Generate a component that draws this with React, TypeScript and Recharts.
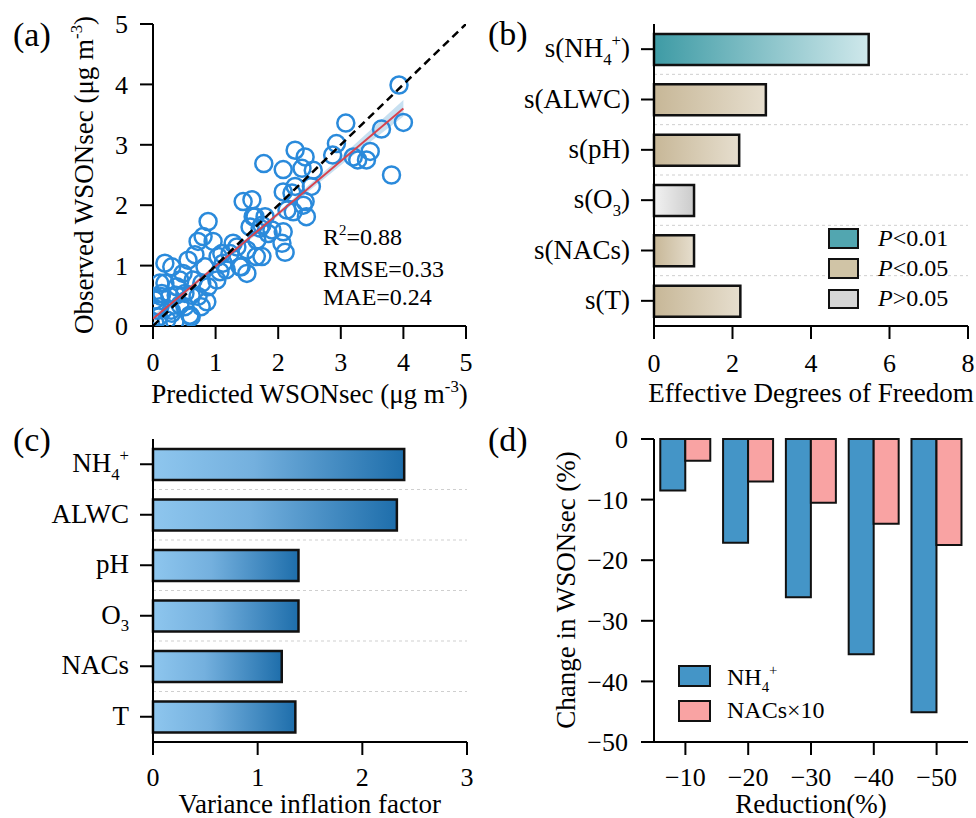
import React from 'react';
import {
  ComposedChart,
  BarChart,
  Bar,
  Scatter,
  Area,
  XAxis,
  YAxis,
  ReferenceLine,
  Cell,
} from 'recharts';

const FONT = '"Liberation Serif", "Times New Roman", serif';

// ---------- Panel (a): predicted vs observed ----------
const predicted = [
  3.93, 4.0, 3.65, 3.81, 3.08, 2.93, 2.87, 3.2, 3.47, 3.41, 3.27, 2.27, 2.43, 2.08, 1.77, 2.38, 2.56, 2.53, 2.08, 2.27,
  2.43, 2.45, 2.24, 1.44, 1.58, 1.63, 1.79, 0.88, 2.08, 2.11, 1.84, 1.71, 1.55, 1.74, 1.39, 1.34, 1.23, 0.96, 0.72, 0.67,
  1.04, 1.07, 0.88, 0.19, 0.3, 0.56, 0.48, 0.64, 0.78, 0.38, 0.11, 0.27, 0.51, 0.72, 0.59, 0.11, 0.09, 0.3, 0.43, 0.86,
  0.22, 0.03, 0.35, 1.02, 1.12, 1.5, 0.14, 0.03, 2.22, 2.4, 2.14, 1.9, 1.66, 2.06, 0.8, 1.28, 1.5, 1.1, 0.43, 0.19,
  0.83, 1.41, 1.65, 1.17, 0.61, 0.37, 0.13, 0.51, 0.29, 0.08, 0.61, 0.77, 1.6, 1.74,
];
const observed = [
  3.99, 3.37, 3.26, 2.5, 3.36, 3.02, 2.83, 2.8, 2.89, 2.75, 2.75, 2.91, 2.8, 2.59, 2.69, 2.61, 2.58, 2.31, 2.22, 2.31,
  2.06, 1.81, 1.89, 2.06, 2.09, 1.81, 1.81, 1.73, 1.56, 1.22, 1.53, 1.62, 1.64, 1.15, 0.98, 1.31, 1.2, 1.4, 1.4, 1.18,
  1.15, 0.9, 0.65, 1.04, 0.98, 1.09, 0.87, 0.76, 0.71, 0.65, 0.71, 0.49, 0.54, 0.49, 0.18, 0.32, 0.15, 0.21, 0.35, 0.4,
  0.1, 0.05, 0.07, 0.76, 1.04, 0.87, 0.54, 0.43, 2.2, 2.0, 1.92, 1.59, 1.42, 1.37, 1.48, 1.37, 1.26, 1.2, 0.76, 0.71,
  0.98, 0.98, 1.15, 0.93, 0.51, 0.51, 0.49, 0.32, 0.26, 0.26, 0.15, 0.32, 1.81, 1.67,
];
const fitX = [0, 4];
const fitY = [0.12, 3.6];
const identityX = [0, 5];
const identityY = [0, 5];
const bandX = [0, 1, 2, 3, 3.5, 4];
const bandLow = [0.05, 0.95, 1.82, 2.66, 3.07, 3.47];
const bandHigh = [0.18, 1.02, 1.89, 2.8, 3.27, 3.74];
const ticksA = [0, 1, 2, 3, 4, 5];

// ---------- Panel (b): effective degrees of freedom ----------
const gamTerms = ['s(NH_4^+)', 's(ALWC)', 's(pH)', 's(O_3)', 's(NACs)', 's(T)'];
const edf = [5.47, 2.85, 2.17, 1.02, 1.02, 2.2];
const edfSignificance = ['p01', 'p05', 'p05', 'ns', 'p05', 'p05'];
const ticksB = [0, 2, 4, 6, 8];

// ---------- Panel (c): variance inflation factor ----------
const vifVars = ['NH_4^+', 'ALWC', 'pH', 'O_3', 'NACs', 'T'];
const vif = [2.4, 2.33, 1.39, 1.39, 1.23, 1.36];
const ticksC = [0, 1, 2, 3];

// ---------- Panel (d): reduction scenarios ----------
const reductions = ['−10', '−20', '−30', '−40', '−50'];
const nh4Change = [-8.5, -17.1, -26.1, -35.5, -45.1];
const nacsChange = [-3.6, -7.0, -10.5, -14.0, -17.5];
const ticksD = [-50, -40, -30, -20, -10, 0];

// ---------- derived tables ----------
const scatterData = predicted.map((x, i) => ({ x, y: observed[i] }));
const bandData = bandX.map((x, i) => ({ x, band: [bandLow[i], bandHigh[i]] }));
const fitData = fitX.map((x, i) => ({ x, y: fitY[i] }));
const identityData = identityX.map((x, i) => ({ x, y: identityY[i] }));
const edfData = gamTerms.map((name, i) => ({ name, value: edf[i], sig: edfSignificance[i] }));
const vifData = vifVars.map((name, i) => ({ name, value: vif[i] }));
const dData = reductions.map((name, i) => ({ name, nh4: nh4Change[i], nacs: nacsChange[i] }));

const sigGradient: Record<string, string> = { p01: 'url(#gradTeal)', p05: 'url(#gradTan)', ns: 'url(#gradGrey)' };

// ---------- rich text (sub/superscripts) ----------
type Seg = { t: string; lvl: number };
function parseRich(s: string): Seg[] {
  const segs: Seg[] = [];
  let buf = '';
  let i = 0;
  const flush = () => {
    if (buf) {
      segs.push({ t: buf, lvl: 0 });
      buf = '';
    }
  };
  while (i < s.length) {
    const c = s[i];
    if (c === '_' || c === '^') {
      flush();
      let content = '';
      if (s[i + 1] === '{') {
        const j = s.indexOf('}', i + 2);
        content = s.slice(i + 2, j);
        i = j + 1;
      } else {
        content = s[i + 1];
        i += 2;
      }
      segs.push({ t: content, lvl: c === '^' ? 1 : -1 });
    } else {
      buf += c;
      i++;
    }
  }
  flush();
  return segs;
}

function RichText({
  x,
  y,
  text,
  fontSize,
  anchor = 'start',
  rotate = 0,
}: {
  x: number;
  y: number;
  text: string;
  fontSize: number;
  anchor?: 'start' | 'middle' | 'end';
  rotate?: number;
}) {
  const segs = parseRich(text);
  let cur = 0;
  const small = fontSize * 0.62;
  const kids = segs.map((sg, k) => {
    const target = sg.lvl === 1 ? -0.42 * fontSize : sg.lvl === -1 ? 0.28 * fontSize : 0;
    const dy = target - cur;
    cur = target;
    return (
      <tspan key={k} dy={dy} style={{ fontSize: sg.lvl ? small : fontSize, fontFamily: FONT }}>
        {sg.t}
      </tspan>
    );
  });
  return (
    <text
      x={x}
      y={y}
      textAnchor={anchor}
      fill="#000"
      style={{ fontSize, fontFamily: FONT }}
      transform={rotate ? `rotate(${rotate} ${x} ${y})` : undefined}
    >
      {kids}
    </text>
  );
}

const AxisTitle = (props: any) => (
  <RichText x={props.tx} y={props.ty} text={props.text} fontSize={27} anchor="middle" rotate={props.rot || 0} />
);

const CatTick = (props: any) => {
  const { x, y, payload } = props;
  return <RichText x={x} y={y + 8} text={String(payload.value)} fontSize={27} anchor="end" />;
};

const minus = (v: number | string) => String(v).replace('-', '−');

const NumTick = (props: any) => {
  const { x, y, payload, side } = props;
  const fs = 26;
  const label = minus(payload.value);
  if (side === 'bottom') {
    return (
      <text x={x} y={y + 0.71 * fs} textAnchor="middle" fill="#000" style={{ fontSize: fs, fontFamily: FONT }}>
        {label}
      </text>
    );
  }
  return (
    <text x={x} y={y + 0.35 * fs} textAnchor="end" fill="#000" style={{ fontSize: fs, fontFamily: FONT }}>
      {label}
    </text>
  );
};

const lineStyle = { stroke: '#000', strokeWidth: 2 };
const axisCommon = {
  stroke: '#000',
  tickSize: 13,
  tickLine: lineStyle,
  axisLine: lineStyle,
};

const Circle = (p: any) => (
  <circle cx={p.cx} cy={p.cy} r={8.5} fill="none" stroke="#2A8ADB" strokeWidth={2.5} />
);
const NoMarker = () => <g />;

function PanelA() {
  return (
    <ComposedChart width={480} height={420} margin={{ top: 24, right: 14, left: 0, bottom: 0 }}>
      <XAxis
        dataKey="x"
        type="number"
        domain={[0, 5]}
        ticks={ticksA}
        height={94}
        tickMargin={14}
        allowDataOverflow
        {...axisCommon}
        tick={<NumTick side="bottom" />}
        label={<AxisTitle tx={309.5} ty={403} text="Predicted WSONsec (μg m^{-3})" />}
      />
      <XAxis
        xAxisId="top"
        orientation="top"
        type="number"
        domain={[0, 5]}
        height={0}
        tick={false}
        tickLine={false}
        axisLine={lineStyle}
      />
      <YAxis
        type="number"
        domain={[0, 5]}
        ticks={ticksA}
        width={153}
        tickMargin={12}
        allowDataOverflow
        {...axisCommon}
        tick={<NumTick side="left" />}
        label={<AxisTitle tx={93} ty={175} rot={-90} text="Observed WSONsec (μg m^{-3})" />}
      />
      <YAxis
        yAxisId="right"
        orientation="right"
        type="number"
        domain={[0, 5]}
        width={0}
        tick={false}
        tickLine={false}
        axisLine={lineStyle}
      />
      <Area
        data={bandData}
        dataKey="band"
        type="linear"
        stroke="none"
        fill="#A9CFEA"
        fillOpacity={0.65}
        isAnimationActive={false}
      />
      <Scatter data={scatterData} dataKey="y" shape={Circle} isAnimationActive={false} />
      <Scatter
        data={fitData}
        dataKey="y"
        shape={NoMarker}
        line={{ stroke: '#D7444F', strokeWidth: 2 }}
        lineType="joint"
        isAnimationActive={false}
      />
      <Scatter
        data={identityData}
        dataKey="y"
        shape={NoMarker}
        line={{ stroke: '#000', strokeWidth: 2.5, strokeDasharray: '8 5' }}
        lineType="joint"
        isAnimationActive={false}
      />
    </ComposedChart>
  );
}

function PanelB() {
  return (
    <BarChart
      layout="vertical"
      width={496}
      height={420}
      data={edfData}
      margin={{ top: 24, right: 8, left: 0, bottom: 0 }}
      barSize={31}
    >
      <XAxis
        type="number"
        domain={[0, 8]}
        ticks={ticksB}
        height={94}
        tickMargin={15}
        {...axisCommon}
        tick={<NumTick side="bottom" />}
        label={<AxisTitle tx={331} ty={402} text="Effective Degrees of Freedom" />}
      />
      <XAxis
        xAxisId="top"
        orientation="top"
        type="number"
        domain={[0, 8]}
        height={0}
        tick={false}
        tickLine={false}
        axisLine={lineStyle}
      />
      <YAxis type="category" dataKey="name" width={174} tickMargin={11} {...axisCommon} tick={<CatTick />} />
      <YAxis
        yAxisId="right"
        orientation="right"
        type="category"
        dataKey="name"
        width={0}
        tick={false}
        tickLine={false}
        axisLine={lineStyle}
      />
      {gamTerms.slice(1).map((n) => (
        <ReferenceLine key={n} y={n} position="start" stroke="#cfcfcf" strokeWidth={1} strokeDasharray="3 3" />
      ))}
      <Bar dataKey="value" stroke="#111" strokeWidth={2.5} isAnimationActive={false}>
        {edfData.map((d) => (
          <Cell key={d.name} fill={sigGradient[d.sig]} />
        ))}
      </Bar>
    </BarChart>
  );
}

function PanelC() {
  return (
    <BarChart
      layout="vertical"
      width={480}
      height={418}
      data={vifData}
      margin={{ top: 39, right: 13, left: 0, bottom: 0 }}
      barSize={31}
    >
      <XAxis
        type="number"
        domain={[0, 3]}
        ticks={ticksC}
        height={76}
        tickMargin={13}
        {...axisCommon}
        tick={<NumTick side="bottom" />}
        label={<AxisTitle tx={309.7} ty={413} text="Variance inflation factor" />}
      />
      <XAxis
        xAxisId="top"
        orientation="top"
        type="number"
        domain={[0, 3]}
        height={0}
        tick={false}
        tickLine={false}
        axisLine={lineStyle}
      />
      <YAxis type="category" dataKey="name" width={153} tickMargin={11} {...axisCommon} tick={<CatTick />} />
      <YAxis
        yAxisId="right"
        orientation="right"
        type="category"
        dataKey="name"
        width={0}
        tick={false}
        tickLine={false}
        axisLine={lineStyle}
      />
      {vifVars.slice(1).map((n) => (
        <ReferenceLine key={n} y={n} position="start" stroke="#cfcfcf" strokeWidth={1} strokeDasharray="3 3" />
      ))}
      <Bar dataKey="value" fill="url(#gradVif)" stroke="#111" strokeWidth={2.5} isAnimationActive={false} />
    </BarChart>
  );
}

function PanelD() {
  return (
    <BarChart
      width={496}
      height={418}
      data={dData}
      margin={{ top: 39, right: 8, left: 0, bottom: 0 }}
      barCategoryGap="10%"
      barGap={0}
    >
      <XAxis
        dataKey="name"
        height={76}
        tickMargin={13}
        {...axisCommon}
        tick={<NumTick side="bottom" />}
        label={<AxisTitle tx={331} ty={413} text="Reduction(%)" />}
      />
      <XAxis
        xAxisId="top"
        orientation="top"
        dataKey="name"
        height={0}
        tick={false}
        tickLine={false}
        axisLine={lineStyle}
      />
      <YAxis
        type="number"
        domain={[-50, 0]}
        ticks={ticksD}
        width={174}
        tickMargin={13}
        {...axisCommon}
        tick={<NumTick side="left" />}
        label={<AxisTitle tx={95} ty={190} rot={-90} text="Change in WSONsec (%)" />}
      />
      <YAxis
        yAxisId="right"
        orientation="right"
        type="number"
        domain={[-50, 0]}
        width={0}
        tick={false}
        tickLine={false}
        axisLine={lineStyle}
      />
      <Bar dataKey="nh4" fill="#4495C7" stroke="#111" strokeWidth={2} isAnimationActive={false} />
      <Bar dataKey="nacs" fill="#F9A3A3" stroke="#111" strokeWidth={2} isAnimationActive={false} />
    </BarChart>
  );
}

export default function App() {
  return (
    <div
      style={{
        position: 'absolute',
        left: 0,
        top: 0,
        width: 976,
        height: 818,
        background: '#fff',
        fontFamily: FONT,
        overflow: 'hidden',
      }}
    >
      <svg width={0} height={0} style={{ position: 'absolute' }}>
        <defs>
          <linearGradient id="gradTeal" x1="0" y1="0" x2="1" y2="0">
            <stop offset="0" stopColor="#3E9BA5" />
            <stop offset="1" stopColor="#CFE8EB" />
          </linearGradient>
          <linearGradient id="gradTan" x1="0" y1="0" x2="1" y2="0">
            <stop offset="0" stopColor="#C7B797" />
            <stop offset="1" stopColor="#E6DECE" />
          </linearGradient>
          <linearGradient id="gradGrey" x1="0" y1="0" x2="1" y2="0">
            <stop offset="0" stopColor="#F2F2F2" />
            <stop offset="1" stopColor="#CBCBCB" />
          </linearGradient>
          <linearGradient id="gradVif" x1="0" y1="0" x2="1" y2="0">
            <stop offset="0" stopColor="#8EC6EE" />
            <stop offset="0.4" stopColor="#74B0DE" />
            <stop offset="1" stopColor="#1E6EAB" />
          </linearGradient>
        </defs>
      </svg>

      <div style={{ position: 'absolute', left: 0, top: 0 }}>
        <PanelA />
      </div>
      <div style={{ position: 'absolute', left: 480, top: 0 }}>
        <PanelB />
      </div>
      <div style={{ position: 'absolute', left: 0, top: 400 }}>
        <PanelC />
      </div>
      <div style={{ position: 'absolute', left: 480, top: 400 }}>
        <PanelD />
      </div>

      <svg
        width={976}
        height={818}
        style={{ position: 'absolute', left: 0, top: 0, pointerEvents: 'none', fontFamily: FONT }}
      >
        <text x={13} y={46} style={{ fontSize: 34, fontFamily: FONT }}>(a)</text>
        <text x={488} y={45} style={{ fontSize: 34, fontFamily: FONT }}>(b)</text>
        <text x={13} y={451} style={{ fontSize: 34, fontFamily: FONT }}>(c)</text>
        <text x={488} y={451} style={{ fontSize: 34, fontFamily: FONT }}>(d)</text>

        <RichText x={323} y={245} text="R^2=0.88" fontSize={24} />
        <RichText x={323} y={276.5} text="RMSE=0.33" fontSize={24} />
        <RichText x={323} y={305} text="MAE=0.24" fontSize={24} />

        <rect x={829} y={229} width={29} height={19} fill="#52A6B0" stroke="#111" strokeWidth={2} />
        <rect x={829} y={259} width={29} height={19} fill="#D0C4A6" stroke="#111" strokeWidth={2} />
        <rect x={829} y={290} width={29} height={18} fill="#D6D6D6" stroke="#111" strokeWidth={2} />
        <text x={878} y={246} style={{ fontSize: 24, fontFamily: FONT }}>
          <tspan fontStyle="italic">P</tspan>
          <tspan>{'<0.01'}</tspan>
        </text>
        <text x={878} y={276} style={{ fontSize: 24, fontFamily: FONT }}>
          <tspan fontStyle="italic">P</tspan>
          <tspan>{'<0.05'}</tspan>
        </text>
        <text x={878} y={306} style={{ fontSize: 24, fontFamily: FONT }}>
          <tspan fontStyle="italic">P</tspan>
          <tspan>{'>0.05'}</tspan>
        </text>

        <rect x={679} y={666} width={31} height={20} fill="#4495C7" stroke="#111" strokeWidth={2} />
        <rect x={679} y={701} width={31} height={20} fill="#F9A3A3" stroke="#111" strokeWidth={2} />
        <RichText x={727} y={685} text="NH_4^+" fontSize={24} />
        <RichText x={727} y={718} text="NACs×10" fontSize={24} />
      </svg>
    </div>
  );
}
